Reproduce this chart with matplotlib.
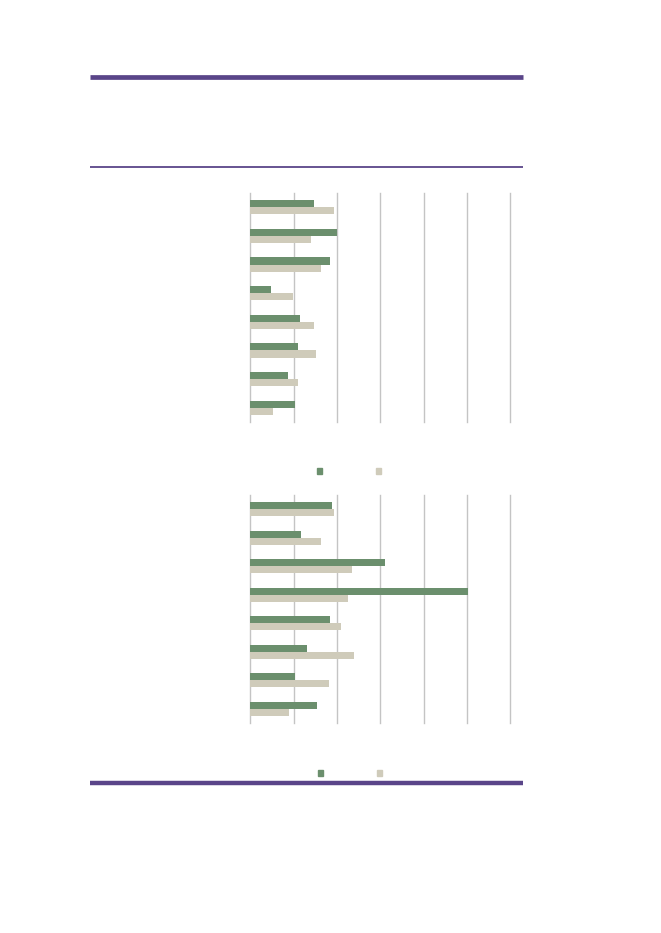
import numpy as np
import matplotlib.pyplot as plt
from matplotlib.lines import Line2D
from matplotlib.patches import Patch

# data (grid step = 5)
categories = ['A', 'B', 'C', 'D', 'E', 'F', 'G', 'H']
top_green = [7.3, 10.0, 9.2, 2.4, 5.7, 5.5, 4.3, 5.2]
top_beige = [9.6, 7.0, 8.1, 4.9, 7.4, 7.6, 5.5, 2.6]
bot_green = [9.4, 5.9, 15.5, 25.1, 9.2, 6.5, 5.2, 7.7]
bot_beige = [9.6, 8.1, 11.7, 11.3, 10.5, 12.0, 9.1, 4.5]
xticks = [0, 5, 10, 15, 20, 25, 30]

green = '#6b8f6d'
beige = '#cfcbba'
purple = '#5a4589'
gridc = '#c4c4c4'

W, H = 661, 933
fig = plt.figure(figsize=(W / 100, H / 100), dpi=100)


def px_axes(x0, y0, x1, y1):
    return fig.add_axes([x0 / W, 1 - y1 / H, (x1 - x0) / W, (y1 - y0) / H])


def bar_panel(ax, g, b):
    y = np.arange(len(categories))
    h = 0.25
    ax.barh(y - h / 2, g, height=h, color=green, zorder=3)
    ax.barh(y + h / 2, b, height=h, color=beige, zorder=3)
    ax.set_xlim(xticks[0], xticks[-1])
    ax.set_ylim(len(categories) - 0.5, -0.5)
    ax.set_xticks(xticks)
    ax.set_yticks(y)
    ax.grid(axis='x', color=gridc, linewidth=1.0)
    for gl in ax.get_xgridlines():
        gl.set_clip_on(False)
    ax.set_axisbelow(True)
    ax.tick_params(length=0, labelbottom=False, labelleft=False)
    for s in ax.spines.values():
        s.set_visible(False)


ax1 = px_axes(250.3, 193, 510.3, 422)
bar_panel(ax1, top_green, top_beige)
ax2 = px_axes(250.3, 495, 510.3, 723)
bar_panel(ax2, bot_green, bot_beige)

# legends (no text in the reference)
handles = [Patch(color=green), Patch(color=beige)]
for cx, cy in [(349, 471.3), (350, 773.3)]:
    fig.legend(handles, ['', ''], ncol=2, loc='center',
               bbox_to_anchor=(cx / W, 1 - cy / H), frameon=False,
               fontsize=5.5, handlelength=0.7, handleheight=0.7,
               handletextpad=0, columnspacing=7.05, borderpad=0)

# purple rules
for y, lw in [(76.6, 3.4), (167.3, 1.3), (783.0, 3.2)]:
    fig.add_artist(Line2D([90 / W, 523 / W], [1 - y / H, 1 - y / H],
                          color=purple, linewidth=lw, solid_capstyle='butt'))

fig.savefig('out.png', dpi=100)
